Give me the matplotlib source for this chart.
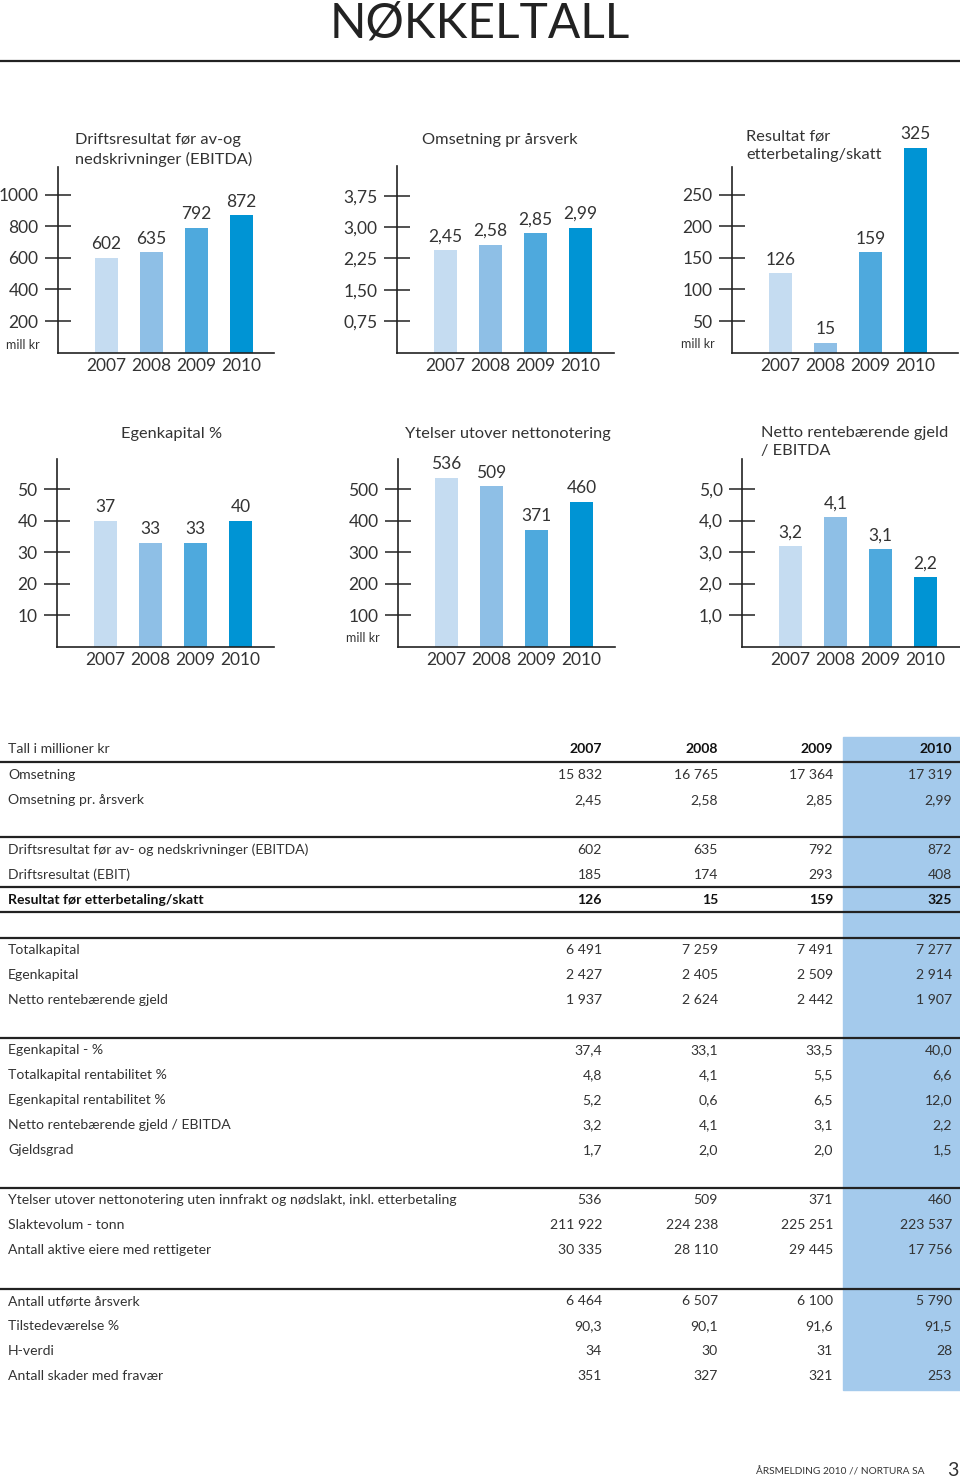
import matplotlib
matplotlib.use('Agg')
import matplotlib.pyplot as plt
from matplotlib.patches import Rectangle

plt.rcParams['font.family'] = ['Lato', 'DejaVu Sans']

W, H = 960, 1479
TXT = '#333333'
LINE = '#222222'
bar_colors = ['#c5dcf1', '#8ebfe6', '#4ea9dd', '#0094d4']
years = ['2007', '2008', '2009', '2010']

# chart data
ebitda = [602, 635, 792, 872]
oms_aarsverk = [2.45, 2.58, 2.85, 2.99]
oms_aarsverk_lbl = ['2,45', '2,58', '2,85', '2,99']
resultat = [126, 15, 159, 325]
egenkap_bar = [40, 33, 33, 40]
egenkap_lbl = ['37', '33', '33', '40']
ytelser = [536, 509, 371, 460]
gjeld_ebitda = [3.2, 4.1, 3.1, 2.2]
gjeld_ebitda_lbl = ['3,2', '4,1', '3,1', '2,2']

# table data
tbl_header = 'Tall i millioner kr'
tbl_labels = [
    ['Omsetning', 'Omsetning pr. årsverk'],
    ['Driftsresultat før av- og nedskrivninger (EBITDA)', 'Driftsresultat (EBIT)',
     'Resultat før etterbetaling/skatt'],
    ['Totalkapital', 'Egenkapital', 'Netto rentebærende gjeld'],
    ['Egenkapital - %', 'Totalkapital rentabilitet %', 'Egenkapital rentabilitet %',
     'Netto rentebærende gjeld / EBITDA', 'Gjeldsgrad'],
    ['Ytelser utover nettonotering uten innfrakt og nødslakt, inkl. etterbetaling',
     'Slaktevolum - tonn', 'Antall aktive eiere med rettigeter'],
    ['Antall utførte årsverk', 'Tilstedeværelse %', 'H-verdi', 'Antall skader med fravær'],
]
tbl_values = [
    [['15 832', '16 765', '17 364', '17 319'], ['2,45', '2,58', '2,85', '2,99']],
    [['602', '635', '792', '872'], ['185', '174', '293', '408'], ['126', '15', '159', '325']],
    [['6 491', '7 259', '7 491', '7 277'], ['2 427', '2 405', '2 509', '2 914'],
     ['1 937', '2 624', '2 442', '1 907']],
    [['37,4', '33,1', '33,5', '40,0'], ['4,8', '4,1', '5,5', '6,6'], ['5,2', '0,6', '6,5', '12,0'],
     ['3,2', '4,1', '3,1', '2,2'], ['1,7', '2,0', '2,0', '1,5']],
    [['536', '509', '371', '460'], ['211 922', '224 238', '225 251', '223 537'],
     ['30 335', '28 110', '29 445', '17 756']],
    [['6 464', '6 507', '6 100', '5 790'], ['90,3', '90,1', '91,6', '91,5'], ['34', '30', '31', '28'],
     ['351', '327', '321', '253']],
]
group_start_y = [775, 850, 950, 1050, 1200, 1301]
group_lines = [837, 938, 1038, 1188, 1289]
col_right = [602, 718, 833, 952]

fig = plt.figure(figsize=(W / 100, H / 100), dpi=100)
bg = fig.add_axes([0, 0, 1, 1])
bg.set_xlim(0, W)
bg.set_ylim(H, 0)
bg.axis('off')

# header
bg.text(480, 24, 'NØKKELTALL', ha='center', va='center', fontsize=34.5, color='#222222')
bg.plot([0, W], [61, 61], color=LINE, lw=1.6)

# table background column
bg.add_patch(Rectangle((843, 737), W - 843, 1390 - 737, color='#a4caec', zorder=0))
for yy in [762] + group_lines + [887, 912]:
    bg.plot([0, W], [yy, yy], color=LINE, lw=1.6, zorder=2)

fs_t = 10.1
bg.text(8, 749, tbl_header, ha='left', va='center', fontsize=fs_t, color=TXT)
for c, yr in enumerate(years):
    bg.text(col_right[c], 749, yr, ha='right', va='center', fontsize=fs_t, color='#111111',
            fontweight='bold')
for g, labels in enumerate(tbl_labels):
    for r, lab in enumerate(labels):
        yy = group_start_y[g] + r * 25
        bold = lab == 'Resultat før etterbetaling/skatt'
        wt = 'bold' if bold else 'normal'
        col = '#111111' if bold else TXT
        bg.text(8, yy, lab, ha='left', va='center', fontsize=fs_t, color=col, fontweight=wt)
        for c, v in enumerate(tbl_values[g][r]):
            bg.text(col_right[c], yy, v, ha='right', va='center', fontsize=fs_t, color=col,
                    fontweight=wt)

bg.text(925, 1472, 'ÅRSMELDING 2010 // NORTURA SA', ha='right', va='center', fontsize=7.3,
        color=TXT)
bg.text(958, 1470, '3', ha='right', va='center', fontsize=14, color=TXT)


def bar_chart(axis_x, right_x, top_y, base_y, ymax_val, ticks, ticklbls, values, lbls,
              xlo=-1.08):
    # pixel box -> figure coords
    ax = fig.add_axes([axis_x / W, 1 - base_y / H, (right_x - axis_x) / W, (base_y - top_y) / H])
    xhi = xlo + (right_x - axis_x) / 45.0
    ax.set_xlim(xlo, xhi)
    ax.set_ylim(0, ymax_val)
    ax.patch.set_alpha(0)
    for s in ['top', 'right']:
        ax.spines[s].set_visible(False)
    for s in ['left', 'bottom']:
        ax.spines[s].set_linewidth(1.2)
        ax.spines[s].set_color(LINE)
    ax.bar(range(4), values, width=0.5, color=bar_colors, clip_on=False, zorder=1)
    for i, (v, l) in enumerate(zip(values, lbls)):
        ax.annotate(l, (i, v), xytext=(0, 4), textcoords='offset points', ha='center',
                    va='bottom', fontsize=12.5, color=TXT, annotation_clip=False)
    ax.set_yticks(ticks)
    ax.set_yticklabels(ticklbls, fontsize=12.5, color=TXT)
    ax.tick_params(axis='y', direction='inout', length=19, width=1.1, color=LINE, pad=4.5)
    ax.set_xticks(range(4))
    ax.set_xticklabels(years, fontsize=12.5, color=TXT)
    ax.tick_params(axis='x', length=0, pad=4)
    return ax


# row 1
bar_chart(58, 274, 167, 352.5, (352.5 - 167) / 0.1575, [200, 400, 600, 800, 1000],
          ['200', '400', '600', '800', '1000'], ebitda, [str(v) for v in ebitda])
bar_chart(397, 614, 166, 352.5, (352.5 - 166) / 41.8, [0.75, 1.5, 2.25, 3.0, 3.75],
          ['0,75', '1,50', '2,25', '3,00', '3,75'], oms_aarsverk, oms_aarsverk_lbl)
bar_chart(732, 958, 167, 352.5, (352.5 - 167) / 0.63, [50, 100, 150, 200, 250],
          ['50', '100', '150', '200', '250'], resultat, [str(v) for v in resultat])

# row 2
bar_chart(57, 274, 459, 646.5, (646.5 - 459) / 3.15, [10, 20, 30, 40, 50],
          ['10', '20', '30', '40', '50'], egenkap_bar, egenkap_lbl)
bar_chart(398, 615, 459, 646.5, (646.5 - 459) / 0.315, [100, 200, 300, 400, 500],
          ['100', '200', '300', '400', '500'], ytelser, [str(v) for v in ytelser])
bar_chart(742, 960, 459, 646.5, (646.5 - 459) / 31.5, [1, 2, 3, 4, 5],
          ['1,0', '2,0', '3,0', '4,0', '5,0'], gjeld_ebitda, gjeld_ebitda_lbl)

# chart titles
fs_h = 11.8
bg.text(75, 150, 'Driftsresultat før av-og\nnedskrivninger (EBITDA)', ha='left', va='center',
        fontsize=fs_h, color=TXT, linespacing=1.45)
bg.text(500, 140, 'Omsetning pr årsverk', ha='center', va='center', fontsize=fs_h, color=TXT)
bg.text(746, 146, 'Resultat før\netterbetaling/skatt', ha='left', va='center', fontsize=fs_h,
        color=TXT, linespacing=1.45)
bg.text(172, 434, 'Egenkapital %', ha='center', va='center', fontsize=fs_h, color=TXT)
bg.text(508, 434, 'Ytelser utover nettonotering', ha='center', va='center', fontsize=fs_h,
        color=TXT)
bg.text(761, 442, 'Netto rentebærende gjeld\n/ EBITDA', ha='left', va='center', fontsize=fs_h,
        color=TXT, linespacing=1.45)

for xx, yy in [(6, 345), (681, 344), (346, 638)]:
    bg.text(xx, yy, 'mill kr', ha='left', va='center', fontsize=9, color=TXT)

fig.savefig('out.png', dpi=100)
